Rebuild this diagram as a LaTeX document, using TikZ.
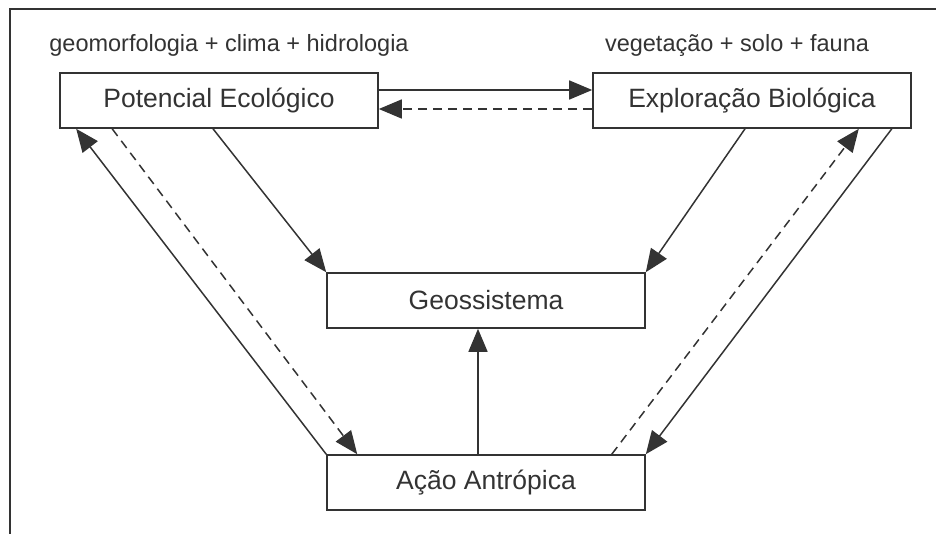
\documentclass[tikz,border=0pt]{standalone}
\usepackage{fontspec}
\setmainfont{Liberation Sans}
\usepackage{tikz}
\usetikzlibrary{arrows.meta, positioning}
\definecolor{ink}{HTML}{333333}
\tikzstyle{box} = [rectangle, draw=ink, line width=1.6pt, minimum width=318pt, minimum height=55pt, inner sep=0pt, font=\fontsize{26.5}{30}\selectfont, text=ink]
\tikzstyle{tag} = [font=\fontsize{23.5}{28}\selectfont, text=ink]
\tikzstyle{line} = [draw=ink, line width=1.5pt, -{Triangle[length=23pt, width=19pt]}]
\tikzstyle{dline} = [line, dash pattern=on 9pt off 6pt]

\begin{document}
\begin{tikzpicture}[x=1pt, y=-1pt]
	\useasboundingbox (0,0) rectangle (936,534);
	\draw [ink, line width=1.3pt] (10,534) -- (10,9) -- (936,9);

	\node [box] (pot) at (219, 100.5) {Potencial Ecológico};
	\node [box] (expl) at (752, 100.5) {Exploração Biológica};
	\node [box] (geo) at (486, 300.5) {Geossistema};
	\node [box] (acao) at (486, 482.5) {Ação Antrópica};

	\node [tag] (potlbl) at (229, 45) {geomorfologia + clima + hidrologia};
	\node [tag] (expllbl) at (737, 45) {vegetação + solo + fauna};

	\path [line] ([yshift=10.5pt]pot.east) -- ([yshift=10.5pt]expl.west);
	\path [dline] ([yshift=-8.5pt]expl.west) -- ([yshift=-8.5pt]pot.east);
	\path [line] ([xshift=-6pt]pot.south) -- (geo.north west);
	\path [line] ([xshift=-7pt]expl.south) -- (geo.north east);
	\path [line] ([xshift=-8pt]acao.north) -- ([xshift=-8pt]geo.south);
	\path [line] (acao.north west) -- ([xshift=17pt]pot.south west);
	\path [dline] ([xshift=53pt]pot.south west) -- ([xshift=31pt]acao.north west);
	\path [dline] ([xshift=-34pt]acao.north east) -- ([xshift=-53pt]expl.south east);
	\path [line] ([xshift=-20pt]expl.south east) -- (acao.north east);
\end{tikzpicture}
\end{document}
